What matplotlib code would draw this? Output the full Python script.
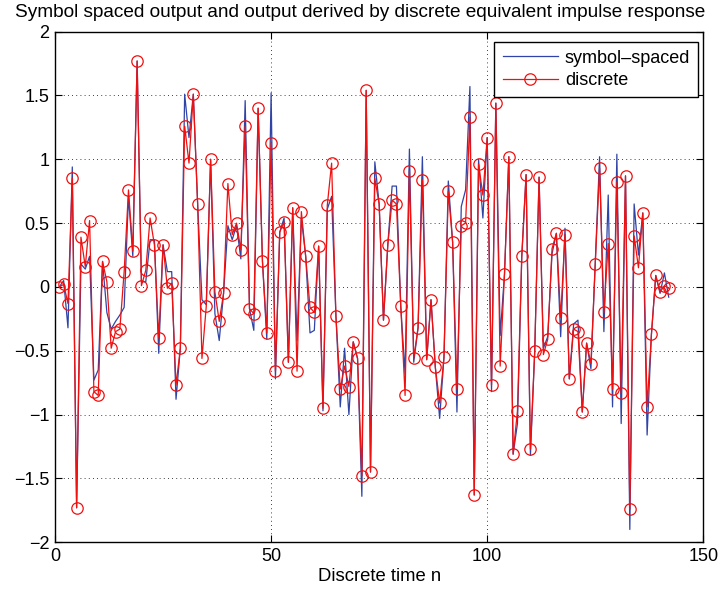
import matplotlib
matplotlib.use("Agg")
import matplotlib.pyplot as plt
import numpy as np

plt.rcParams['font.family'] = ['Liberation Sans', 'DejaVu Sans']

n = list(range(1, 143))

discrete = [
    0.00, 0.02, -0.13, 0.85, -1.73, 0.39, 0.16, 0.52, -0.82, -0.85,
    0.20, 0.04, -0.48, -0.35, -0.33, 0.12, 0.76, 0.28, 1.77, 0.01,
    0.13, 0.54, 0.33, -0.40, 0.33, -0.01, 0.03, -0.77, -0.48, 1.26,
    0.97, 1.51, 0.65, -0.56, -0.15, 1.00, -0.04, -0.27, -0.05, 0.81,
    0.41, 0.50, 0.29, 1.26, -0.17, -0.21, 1.40, 0.20, -0.36, 1.13,
    -0.66, 0.43, 0.51, -0.59, 0.62, -0.66, 0.59, 0.24, -0.16, -0.20,
    0.32, -0.95, 0.64, 0.97, -0.23, -0.80, -0.62, -0.78, -0.43, -0.56,
    -1.48, 1.54, -1.45, 0.85, 0.65, -0.26, 0.33, 0.68, 0.65, -0.15,
    -0.85, 0.91, -0.56, -0.32, 0.84, -0.57, -0.10, -0.63, -0.91, -0.55,
    0.75, 0.35, -0.80, 0.48, 0.50, 1.33, -1.63, 0.96, 0.72, 1.17,
    -0.77, 1.44, -0.62, 0.10, 1.02, -1.31, -0.97, 0.24, 0.88, -1.27,
    -0.50, 0.86, -0.53, -0.41, 0.30, 0.42, -0.24, 0.41, -0.72, -0.33,
    -0.35, -0.98, -0.44, -0.60, 0.18, 0.93, -0.20, 0.34, -0.80, 0.82,
    -0.83, 0.87, -1.74, 0.40, 0.15, 0.58, -0.94, -0.37, 0.09, -0.04,
    0.01, -0.01,
]

symbol_spaced = [
    0.00, 0.05, -0.32, 0.94, -1.73, 0.18, 0.14, 0.24, -0.73, -0.65,
    0.20, -0.20, -0.33, -0.27, -0.22, -0.16, 0.71, 0.24, 1.77, 0.04,
    0.04, 0.37, 0.37, -0.52, 0.33, 0.12, 0.12, -0.88, -0.48, 1.51,
    1.17, 1.51, 0.65, -0.10, -0.14, 1.00, -0.21, -0.42, -0.05, 0.48,
    0.37, 0.48, 0.22, 1.46, -0.17, -0.34, 1.40, 0.20, -0.41, 1.52,
    -0.72, 0.43, 0.54, -0.59, 0.62, -0.42, 0.54, 0.24, -0.36, -0.34,
    0.32, -0.97, 0.61, 0.71, -0.23, -0.94, -0.48, -1.00, -0.43, -0.56,
    -1.64, 1.54, -1.45, 0.98, 0.65, -0.26, 0.33, 0.79, 0.79, -0.15,
    -0.68, 1.08, -0.59, -0.32, 1.02, -0.57, -0.10, -0.63, -1.03, -0.55,
    0.83, 0.35, -0.98, 0.63, 0.76, 1.57, -1.63, 1.00, 0.54, 1.17,
    -0.82, 1.44, -0.38, 0.10, 1.02, -1.31, -1.07, 0.24, 0.88, -1.32,
    -0.50, 0.86, -0.48, -0.39, 0.26, 0.42, -0.39, 0.46, -0.72, -0.29,
    -0.26, -0.98, -0.44, -0.64, 0.18, 1.02, -0.35, 0.72, -0.94, 1.04,
    -1.07, 0.87, -1.90, 0.65, 0.25, 0.58, -1.16, -0.37, 0.09, -0.05,
    0.11, -0.08,
]

xticks = [0, 50, 100, 150]
yticks = [-2, -1.5, -1, -0.5, 0, 0.5, 1, 1.5, 2]
ytick_labels = ['\u22122', '\u22121.5', '\u22121', '\u22120.5', '0', '0.5', '1', '1.5', '2']

fig = plt.figure(figsize=(7.2, 5.97), dpi=100)
ax = fig.add_axes([0.0764, 0.0917, 0.9004, 0.8553])

ax.plot(n, symbol_spaced, color='#2f44a6', lw=0.9, label='symbol\u2013spaced')
ax.plot(n, discrete, color='#f01010', lw=0.9, marker='o', markersize=8.2,
        markerfacecolor='none', markeredgecolor='#f01010', markeredgewidth=0.9,
        label='discrete')

ax.set_xlim(0, 150)
ax.set_ylim(-2, 2)
ax.set_xticks(xticks)
ax.set_yticks(yticks)
ax.set_yticklabels(ytick_labels)
ax.tick_params(direction='in', top=True, right=True, labelsize=13, length=5, pad=4)
ax.grid(True, color='black', linestyle=(0, (1, 4)), linewidth=0.6)
for s in ax.spines.values():
    s.set_linewidth(1.0)

ax.set_xlabel('Discrete time n', fontsize=13.3, labelpad=2)
ax.set_title('Symbol spaced output and output derived by discrete equivalent impulse response',
             fontsize=13.7, pad=10.5, x=0.4705)

leg = ax.legend(loc='upper right', bbox_to_anchor=(0.9923, 0.9804), borderaxespad=0,
                fontsize=13, fancybox=False, edgecolor='black', framealpha=1,
                handlelength=3.1, handletextpad=0.35, borderpad=0.45, labelspacing=0.3)
leg.get_frame().set_linewidth(1.0)

fig.savefig('out.png', dpi=100)
